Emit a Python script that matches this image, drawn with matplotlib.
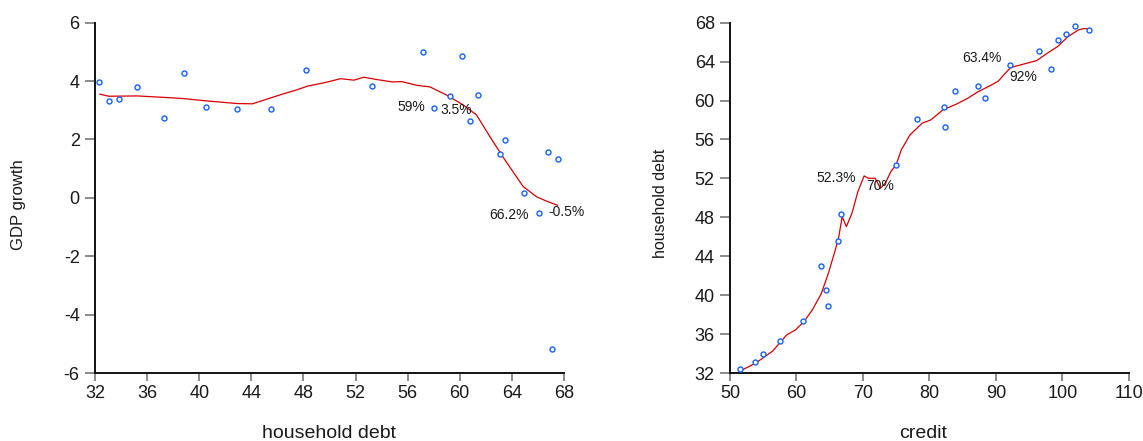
import matplotlib
matplotlib.use("Agg")
import matplotlib.pyplot as plt

plt.rcParams['font.family'] = ['Liberation Sans', 'DejaVu Sans']
plt.rcParams['axes.unicode_minus'] = False

# ---- Left panel: GDP growth vs household debt ----
debt_left = [32.32, 33.06, 33.85, 35.24, 37.32, 38.82, 40.53, 42.94, 45.53, 48.21,
             53.26, 57.18, 58.0, 59.29, 60.15, 60.82, 61.38, 63.09, 63.5, 64.97,
             66.09, 66.76, 67.53, 67.09]
gdp_growth = [3.95, 3.30, 3.38, 3.80, 2.73, 4.26, 3.10, 3.03, 3.03, 4.38,
              3.84, 4.98, 3.07, 3.48, 4.85, 2.62, 3.51, 1.52, 1.98, 0.16,
              -0.50, 1.57, 1.33, -5.18]
fit_left_x = [32.38, 33.06, 35.26, 37.32, 38.79, 40.56, 42.91, 44.09, 45.26, 46.44,
              47.3, 48.35, 49.68, 50.85, 51.88, 52.62, 53.65, 54.82, 55.56, 56.74,
              57.71, 58.99, 60.27, 61.29, 62.31, 63.47, 64.87, 65.9, 66.67, 67.5]
fit_left_y = [3.55, 3.48, 3.49, 3.44, 3.40, 3.32, 3.23, 3.22, 3.39, 3.56,
              3.67, 3.83, 3.95, 4.08, 4.03, 4.13, 4.05, 3.97, 3.98, 3.85,
              3.80, 3.52, 3.18, 2.84, 2.10, 1.30, 0.39, 0.04, -0.11, -0.25]
left_xticks = [32, 36, 40, 44, 48, 52, 56, 60, 64, 68]
left_yticks = [-6, -4, -2, 0, 2, 4, 6]
left_notes = [("59%", 57.38, 3.10, 'right'), ("3.5%", 58.5, 3.0, 'left'),
              ("66.2%", 65.26, -0.58, 'right'), ("-0.5%", 66.79, -0.49, 'left')]

# ---- Right panel: household debt vs credit ----
credit = [51.52, 53.82, 55.02, 57.53, 61.03, 63.64, 64.48, 64.69, 66.2, 66.73,
          74.93, 78.18, 82.2, 82.31, 83.93, 87.32, 88.42, 92.13, 96.57, 98.35,
          99.4, 100.55, 101.9, 103.95]
debt_right = [32.41, 33.13, 33.95, 35.32, 37.41, 43.02, 40.59, 38.88, 45.62, 48.32,
              53.36, 58.11, 59.38, 57.29, 60.95, 61.5, 60.23, 63.62, 65.09, 63.21,
              66.22, 66.87, 67.63, 67.22]
fit_right_x = [51.52, 53.82, 56.43, 58.52, 59.83, 61.14, 62.44, 63.75, 64.8, 65.84,
               66.37, 66.88, 67.51, 68.35, 69.24, 70.18, 70.81, 71.85, 72.63, 73.42,
               74.2, 74.99, 75.77, 77.08, 78.91, 80.21, 82.04, 84.13, 85.7, 87.27,
               89.36, 90.41, 91.19, 92.24, 94.07, 96.16, 97.73, 99.3, 100.87, 102.44,
               103.22, 104.11]
fit_right_y = [32.24, 33.03, 34.29, 35.94, 36.45, 37.3, 38.57, 40.21, 42.27, 44.66,
               46.03, 48.08, 47.06, 48.43, 50.65, 52.26, 52.02, 52.02, 50.99, 51.58,
               52.7, 53.39, 54.93, 56.47, 57.67, 58.01, 59.04, 59.65, 60.2, 60.88,
               61.6, 62.01, 62.63, 63.38, 63.72, 64.1, 64.85, 65.54, 66.56, 67.25,
               67.38, 67.38]
right_xticks = [50, 60, 70, 80, 90, 100, 110]
right_yticks = [32, 36, 40, 44, 48, 52, 56, 60, 64, 68]
right_notes = [("52.3%", 68.97, 52.02, 'right'), ("70%", 70.44, 51.23, 'left'),
               ("63.4%", 90.83, 64.34, 'right'), ("92%", 92.08, 62.39, 'left')]

MARKER_COLOR = '#1560ff'
LINE_COLOR = '#d80000'
TEXT_COLOR = '#1a1a1a'

fig = plt.figure(figsize=(11.43, 4.41), dpi=100)
ax1 = fig.add_axes([0.0831, 0.1535, 0.4103, 0.7953])
ax2 = fig.add_axes([0.6387, 0.1535, 0.3488, 0.7953])


def style(ax, xticks, yticks):
    for s in ('top', 'right'):
        ax.spines[s].set_visible(False)
    for s in ('left', 'bottom'):
        ax.spines[s].set_linewidth(1.4)
        ax.spines[s].set_color('#111111')
    ax.set_xticks(xticks)
    ax.set_yticks(yticks)
    ax.set_xlim(xticks[0], xticks[-1])
    ax.set_ylim(yticks[0], yticks[-1])
    ax.tick_params(axis='x', direction='out', length=5.5, width=1.2,
                   color='#777777', pad=3, labelsize=13, labelcolor=TEXT_COLOR)
    ax.tick_params(axis='y', direction='out', length=7, width=1.2,
                   color='#777777', pad=4, labelsize=13, labelcolor=TEXT_COLOR)


def draw(ax, x, y, fx, fy, notes):
    ax.plot(fx, fy, color=LINE_COLOR, lw=0.9, clip_on=False, zorder=2)
    ax.plot(x, y, linestyle='none', marker='o', markersize=3.6,
            markerfacecolor='white', markeredgecolor=MARKER_COLOR,
            markeredgewidth=1.0, clip_on=False, zorder=3)
    for txt, tx, ty, ha in notes:
        ax.text(tx, ty, txt, ha=ha, va='center', fontsize=10, color=TEXT_COLOR, zorder=4)


style(ax1, left_xticks, left_yticks)
draw(ax1, debt_left, gdp_growth, fit_left_x, fit_left_y, left_notes)
ax1.set_xlabel('household debt', fontsize=14, color=TEXT_COLOR)
ax1.xaxis.set_label_coords(0.5, -0.148)
ax1.set_ylabel('GDP growth', fontsize=12, color=TEXT_COLOR)
ax1.yaxis.set_label_coords(-0.147, 0.48)

style(ax2, right_xticks, right_yticks)
draw(ax2, credit, debt_right, fit_right_x, fit_right_y, right_notes)
ax2.set_xlabel('credit', fontsize=14, color=TEXT_COLOR)
ax2.xaxis.set_label_coords(0.485, -0.148)
ax2.set_ylabel('household debt', fontsize=11.5, color=TEXT_COLOR)
ax2.yaxis.set_label_coords(-0.155, 0.486)

fig.savefig('out.png', dpi=100, facecolor='white')
